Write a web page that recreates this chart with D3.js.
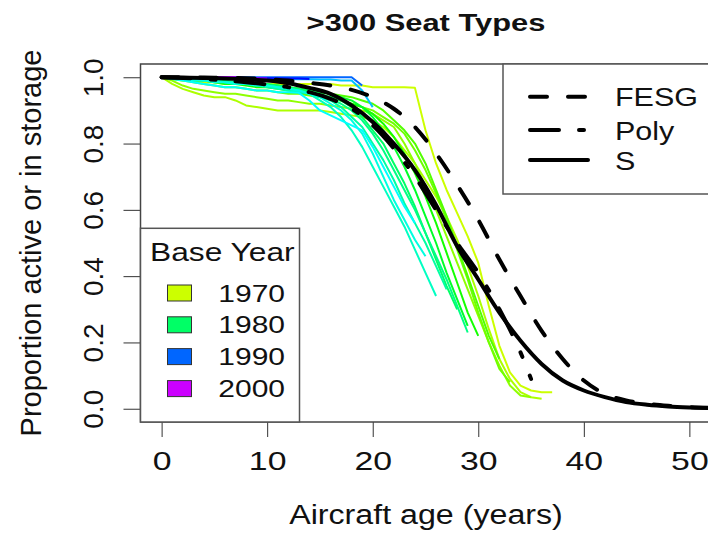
<!DOCTYPE html>
<html>
<head>
<meta charset="utf-8">
<script src="https://cdn.jsdelivr.net/npm/d3@7"></script>
<style>
  body { margin: 0; background: #fff; }
  text { font-family: "Liberation Sans", Arial, sans-serif; fill: #111; }
</style>
</head>
<body>
<svg width="708" height="533"></svg>
<script>
// observed survival by base year, one value per year of age (age = index)
const baseYears = [1970, 1971, 1972, 1973, 1974, 1976, 1978, 1980, 1981, 1982, 1983, 1984, 1985, 1987, 1990, 1993, 1997, 2000];
const survival = [
  [1.00,0.995,0.99,0.99,0.985,0.985,0.98,0.98,0.98,0.98, 0.98,0.98,0.98,0.98,0.98,0.98,0.98,0.975,0.975,0.975, 0.97,0.97,0.97,0.97,0.968,0.84,0.74,0.66,0.59,0.52, 0.44,0.31,0.19,0.11,0.07,0.055,0.05,0.05],
  [1.00,0.98,0.965,0.955,0.945,0.94,0.94,0.93,0.915,0.91, 0.905,0.90,0.90,0.90,0.90,0.90,0.895,0.89,0.885,0.88, 0.87,0.85,0.82,0.78,0.74,0.69,0.64,0.58,0.51,0.43, 0.34,0.24,0.15,0.09,0.05,0.035,0.03],
  [1.00,0.99,0.975,0.965,0.96,0.955,0.95,0.95,0.945,0.94, 0.935,0.93,0.93,0.925,0.92,0.92,0.915,0.91,0.905,0.90, 0.89,0.87,0.85,0.80,0.74,0.67,0.60,0.52,0.44,0.36, 0.28,0.20,0.13,0.07,0.04,0.035],
  [1.00,0.995,0.99,0.985,0.98,0.975,0.97,0.97,0.965,0.96, 0.96,0.955,0.95,0.95,0.945,0.94,0.935,0.93,0.92,0.91, 0.90,0.88,0.86,0.83,0.78,0.72,0.65,0.57,0.48,0.39, 0.29,0.20,0.12,0.08],
  [1.00,1.00,0.995,0.99,0.99,0.985,0.985,0.98,0.98,0.975, 0.975,0.97,0.97,0.965,0.96,0.955,0.95,0.945,0.94,0.93, 0.92,0.90,0.87,0.84,0.80,0.74,0.66,0.58,0.49,0.40, 0.31,0.22,0.15],
  [1.00,1.00,0.995,0.99,0.99,0.985,0.98,0.98,0.975,0.97, 0.97,0.965,0.96,0.955,0.95,0.945,0.94,0.93,0.92,0.91, 0.89,0.86,0.82,0.77,0.71,0.64,0.56,0.47,0.38,0.29, 0.22],
  [1.00,1.00,1.00,0.995,0.99,0.99,0.985,0.985,0.98,0.98, 0.975,0.975,0.97,0.965,0.96,0.955,0.95,0.94,0.93,0.91, 0.88,0.84,0.79,0.73,0.66,0.58,0.50,0.41,0.33,0.25],
  [1.00,1.00,1.00,0.995,0.995,0.99,0.99,0.985,0.985,0.98, 0.98,0.975,0.97,0.965,0.96,0.95,0.94,0.93,0.91,0.88, 0.84,0.80,0.74,0.68,0.61,0.53,0.45,0.37,0.30],
  [1.00,1.00,0.995,0.995,0.99,0.99,0.985,0.985,0.98,0.975, 0.975,0.97,0.965,0.96,0.955,0.945,0.935,0.92,0.90,0.87, 0.83,0.78,0.72,0.66,0.60,0.53,0.46,0.39,0.31,0.23],
  [1.00,1.00,1.00,0.995,0.99,0.99,0.985,0.98,0.98,0.975, 0.97,0.965,0.96,0.955,0.95,0.94,0.93,0.91,0.88,0.85, 0.80,0.75,0.69,0.62,0.56,0.50,0.43,0.36],
  [1.00,1.00,1.00,0.995,0.99,0.99,0.985,0.985,0.98,0.98, 0.975,0.97,0.965,0.96,0.95,0.93,0.91,0.88,0.84,0.79, 0.73,0.67,0.61,0.55,0.48,0.41,0.34],
  [1.00,1.00,0.995,0.99,0.99,0.985,0.985,0.98,0.98,0.975, 0.975,0.97,0.965,0.96,0.95,0.94,0.92,0.90,0.87,0.83, 0.77,0.70,0.63,0.57,0.51,0.46],
  [1.00,0.995,0.99,0.985,0.98,0.975,0.97,0.97,0.965,0.96, 0.96,0.955,0.955,0.953,0.93,0.90,0.885,0.87,0.855,0.84, 0.79,0.73,0.67,0.61,0.56],
  [1.00,1.00,1.00,1.00,0.998,0.998,0.997,0.997,0.996,0.996, 0.995,0.995,0.995,0.994,0.994,0.993,0.993,0.99,0.99,0.96, 0.91],
  [1.00,1.00,1.00,1.00,1.00,1.00,1.00,1.00,1.00,1.00, 1.00,1.00,1.00,1.00,1.00,1.00,1.00,1.00,1.00,0.975],
  [1.00,1.00,1.00,1.00,1.00,1.00,1.00,0.998,0.998,0.998, 0.997,0.997,0.996,0.996,0.995],
  [1.00,1.00,1.00,1.00,1.00,1.00,1.00,1.00,0.998,0.998,0.997],
  [1.00,1.00,1.00,1.00,1.00,1.00,1.00,1.00]
];

// fitted curves
const fitAges  = [0,2,4,6,8,10,12,14,16,18,20,22,24,26,28,30,32,34,36,38,40,42,44,46,48,50,52];
const fesgVals = [1.0,1.0,0.999,0.998,0.997,0.994,0.99,0.983,0.975,0.962,0.94,0.905,0.85,0.77,0.675,0.57,0.45,0.34,0.235,0.15,0.085,0.045,0.025,0.015,0.009,0.005,0.003];
const sVals    = [1.0,0.999,0.998,0.996,0.994,0.99,0.982,0.968,0.95,0.915,0.865,0.80,0.72,0.615,0.49,0.39,0.29,0.205,0.135,0.085,0.055,0.035,0.02,0.012,0.007,0.004,0.002];
const polyAges = [0,2,4,6,8,10,12,14,16,18,20,22,24,26,28,30,32,34,35];
const polyVals = [1.0,0.998,0.995,0.99,0.985,0.978,0.97,0.955,0.935,0.905,0.855,0.785,0.70,0.60,0.50,0.41,0.30,0.17,0.09];

const fitNames = ['FESG', 'Poly', 'S'];
const legendYears = [1970, 1980, 1990, 2000];
const xTicks = [0, 10, 20, 30, 40, 50];
const yTicks = [0, 0.2, 0.4, 0.6, 0.8, 1.0];

const svg = d3.select('svg');
const width = +svg.attr('width');
const height = +svg.attr('height');
const plot = { left: 140.5, right: 710.5, top: 64, bottom: 422 };

const x = d3.scaleLinear().domain([-2, 52]).range([plot.left, plot.right]);
const y = d3.scaleLinear().domain([-0.04, 1.04]).range([plot.bottom, plot.top]);
// R rainbow: 1970 = #CCFF00 ... 2000 = #CC00FF
const hue = d3.scaleLinear().domain([1970, 2000]).range([72, 288]);
const colour = yr => d3.hsl(hue(yr), 1, 0.5).formatHex();

svg.append('rect').attr('width', width).attr('height', height).attr('fill', '#fff');
svg.append('defs').append('clipPath').attr('id', 'clip')
  .append('rect')
    .attr('x', plot.left).attr('y', plot.top)
    .attr('width', plot.right - plot.left).attr('height', plot.bottom - plot.top);

// horizontal text in the picture is drawn a bit wide, so stretch it by sx
const label = (parent, x0, y0, s, size, opts = {}) => {
  const sx = opts.sx || 1;
  const t = parent.append('text')
    .attr('transform', `translate(${x0},${y0}) scale(${sx},1)` + (opts.rotate ? ' rotate(-90)' : ''))
    .attr('text-anchor', opts.anchor || 'start')
    .style('font-size', size + 'px')
    .text(s);
  if (opts.bold) t.style('font-weight', 'bold');
  return t;
};

const g = svg.append('g').attr('clip-path', 'url(#clip)');
const line = d3.line().x(d => x(d[0])).y(d => y(d[1]));
const smooth = d3.line().x(d => x(d[0])).y(d => y(d[1])).curve(d3.curveMonotoneX);

survival.forEach((vals, i) => {
  g.append('path')
    .datum(vals.map((v, age) => [age, v]))
    .attr('d', line)
    .attr('fill', 'none')
    .attr('stroke', colour(baseYears[i]))
    .attr('stroke-width', 2)
    .attr('stroke-linejoin', 'round');
});

const fits = [
  { name: fitNames[0], pts: d3.zip(fitAges, fesgVals), dash: '17,21' },
  { name: fitNames[1], pts: d3.zip(polyAges, polyVals), dash: '29,20,5,20' },
  { name: fitNames[2], pts: d3.zip(fitAges, sVals), dash: null }
];

fits.forEach(f => {
  g.append('path')
    .datum(f.pts)
    .attr('d', smooth)
    .attr('fill', 'none')
    .attr('stroke', '#000')
    .attr('stroke-width', 4)
    .attr('stroke-linecap', 'round')
    .attr('stroke-dasharray', f.dash);
});

// axes
const xAxis = svg.append('g')
  .attr('transform', `translate(0,${plot.bottom})`)
  .call(d3.axisBottom(x).tickValues(xTicks).tickSize(15).tickSizeOuter(0).tickFormat(d3.format('d')));
xAxis.attr('font-size', null).attr('font-family', null);
xAxis.select('.domain').remove();
xAxis.selectAll('line').attr('stroke', '#333');
xAxis.selectAll('text')
  .attr('y', 48).attr('dy', null)
  .attr('transform', 'scale(1.3,1)')
  .style('font-size', '26px');

const yAxis = svg.append('g')
  .attr('transform', `translate(${plot.left},0)`)
  .call(d3.axisLeft(y).tickValues(yTicks).tickSize(17).tickSizeOuter(0).tickFormat(d3.format('.1f')));
yAxis.attr('font-size', null).attr('font-family', null);
yAxis.select('.domain').remove();
yAxis.selectAll('line').attr('stroke', '#333');
yAxis.selectAll('text')
  .attr('x', null).attr('dy', null)
  .attr('text-anchor', 'middle')
  .attr('transform', 'translate(-37.5,0) rotate(-90)')
  .style('font-size', '28px');

svg.append('rect')
  .attr('x', plot.left).attr('y', plot.top)
  .attr('width', plot.right - plot.left).attr('height', plot.bottom - plot.top)
  .attr('fill', 'none').attr('stroke', '#444').attr('stroke-width', 1.5);

// legend: fitted curves
const lg1 = svg.append('g');
lg1.append('rect')
  .attr('x', 503).attr('y', plot.top).attr('width', 230).attr('height', 130)
  .attr('fill', '#fff').attr('stroke', '#555').attr('stroke-width', 1.5);
const lineYs = [96.7, 130, 160];
fits.forEach((f, i) => {
  lg1.append('line')
    .attr('x1', 530).attr('x2', 588).attr('y1', lineYs[i]).attr('y2', lineYs[i])
    .attr('stroke', '#000').attr('stroke-width', 4)
    .attr('stroke-linecap', 'round')
    .attr('stroke-dasharray', f.dash);
  label(lg1, 615, lineYs[i] + 9.5, f.name, 26.5, { sx: 1.15 });
});

// legend: base year
const lg2 = svg.append('g');
lg2.append('rect')
  .attr('x', plot.left).attr('y', 228.3).attr('width', 159).attr('height', plot.bottom - 228.3)
  .attr('fill', '#fff').attr('stroke', '#555').attr('stroke-width', 1.5);
label(lg2, 150, 260.7, 'Base Year', 26, { sx: 1.22 });
const boxYs = [293, 324.8, 356.6, 388.6];
legendYears.forEach((yr, i) => {
  lg2.append('rect')
    .attr('x', 167.5).attr('y', boxYs[i] - 8).attr('width', 24).attr('height', 16)
    .attr('fill', colour(yr)).attr('stroke', '#333').attr('stroke-width', 1);
  label(lg2, 285, boxYs[i] + 8.6, yr, 24, { anchor: 'end', sx: 1.25 });
});

// titles
label(svg, 426, 31, '>300 Seat Types', 24.5, { anchor: 'middle', bold: true, sx: 1.26 });
label(svg, 426, 524, 'Aircraft age (years)', 28, { anchor: 'middle', sx: 1.15 });
label(svg, 41, 243, 'Proportion active or in storage', 29, { anchor: 'middle', rotate: true });
</script>
</body>
</html>
